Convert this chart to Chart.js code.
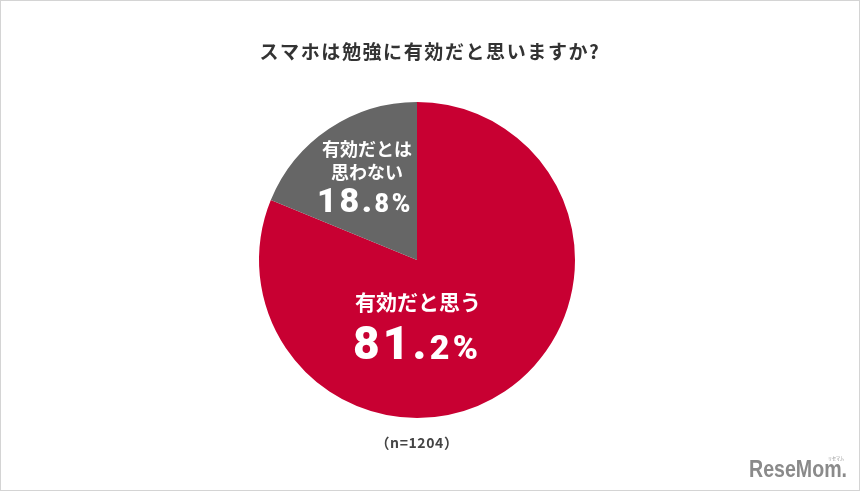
<!DOCTYPE html>
<html>
<head>
<meta charset="utf-8">
<title>スマホは勉強に有効だと思いますか？</title>
<script src="https://cdn.jsdelivr.net/npm/chart.js@4"></script>
<style>
  html, body { margin: 0; padding: 0; background: #fff; }
  #wrap { position: relative; width: 858px; height: 489px; border: 1px solid #d4d4d4; overflow: hidden; }
  #wrap canvas { position: absolute; left: -1px; top: -1px; }
</style>
</head>
<body>
<div id="wrap"><canvas id="chart" width="860" height="491"></canvas></div>
<script>
const categories = ['有効だと思う', '有効だとは思わない'];
const values = [81.2, 18.8];
const colors = ['#c80032', '#666666'];
const titleText = 'スマホは勉強に有効だと思いますか?';
const noteText = '（n=1204）';
const logoText = 'ReseMom.';
const logoKana = 'リセマム';

const jp = '"Noto Sans CJK JP", "Noto Sans", sans-serif';
const num = 'Roboto, "DejaVu Sans", sans-serif';

function drawCentered(ctx, text, x, y, font, color, spacing) {
    ctx.font = font;
    ctx.fillStyle = color;
    ctx.letterSpacing = (spacing || 0) + 'px';
    ctx.textAlign = 'center';
    ctx.textBaseline = 'middle';
    ctx.fillText(text, x, y);
    ctx.letterSpacing = '0px';
}

// big number, small decimals, e.g. 81 . 2%
function drawPercent(ctx, value, x, y, bigSize, smallSize, spacing) {
    const parts = value.toFixed(1).split('.');
    const big = parts[0] + '.';
    const small = parts[1] + '%';
    ctx.textAlign = 'left';
    ctx.textBaseline = 'alphabetic';
    ctx.fillStyle = '#fff';
    ctx.letterSpacing = spacing + 'px';
    ctx.font = `900 ${bigSize}px ${num}`;
    const w1 = ctx.measureText(big).width;
    ctx.font = `900 ${smallSize}px ${num}`;
    const w2 = ctx.measureText(small).width;
    const left = x - (w1 + w2) / 2;
    ctx.font = `900 ${bigSize}px ${num}`;
    ctx.fillText(big, left, y);
    ctx.font = `900 ${smallSize}px ${num}`;
    ctx.fillText(small, left + w1, y);
    ctx.letterSpacing = '0px';
}

const textPlugin = {
    id: 'textPlugin',
    afterDraw(chart) {
        const ctx = chart.ctx;
        ctx.save();
        drawCentered(ctx, titleText, 430, 52, `bold 19px ${jp}`, '#333333', 1.6);
        drawCentered(ctx, noteText, 417, 443, `bold 14px ${jp}`, '#444444', 0.6);

        drawCentered(ctx, categories[0], 418, 302, `bold 21px ${jp}`, '#fff', 0);
        drawPercent(ctx, values[0], 417, 359, 46, 34, 3.2);

        drawCentered(ctx, '有効だとは', 367, 149, `bold 18px ${jp}`, '#fff', 0);
        drawCentered(ctx, '思わない', 367, 172, `bold 18px ${jp}`, '#fff', 0);
        drawPercent(ctx, values[1], 365, 212, 34, 25, 2.6);

        ctx.textAlign = 'left';
        ctx.textBaseline = 'alphabetic';
        ctx.fillStyle = '#8a8a8a';
        ctx.font = `bold 24px "Liberation Sans", sans-serif`;
        ctx.fillText(logoText, 749, 477, 98);
        ctx.font = `5px ${jp}`;
        ctx.fillText(logoKana, 828, 460, 16);
        ctx.restore();
    }
};

new Chart(document.getElementById('chart'), {
    type: 'pie',
    data: {
        labels: categories,
        datasets: [{
            data: values,
            backgroundColor: colors,
            borderWidth: 0
        }]
    },
    options: {
        responsive: false,
        animation: false,
        layout: { padding: { left: 259, right: 285, top: 102, bottom: 73 } },
        plugins: {
            legend: { display: false },
            tooltip: { enabled: false }
        }
    },
    plugins: [textPlugin]
});
</script>
</body>
</html>
